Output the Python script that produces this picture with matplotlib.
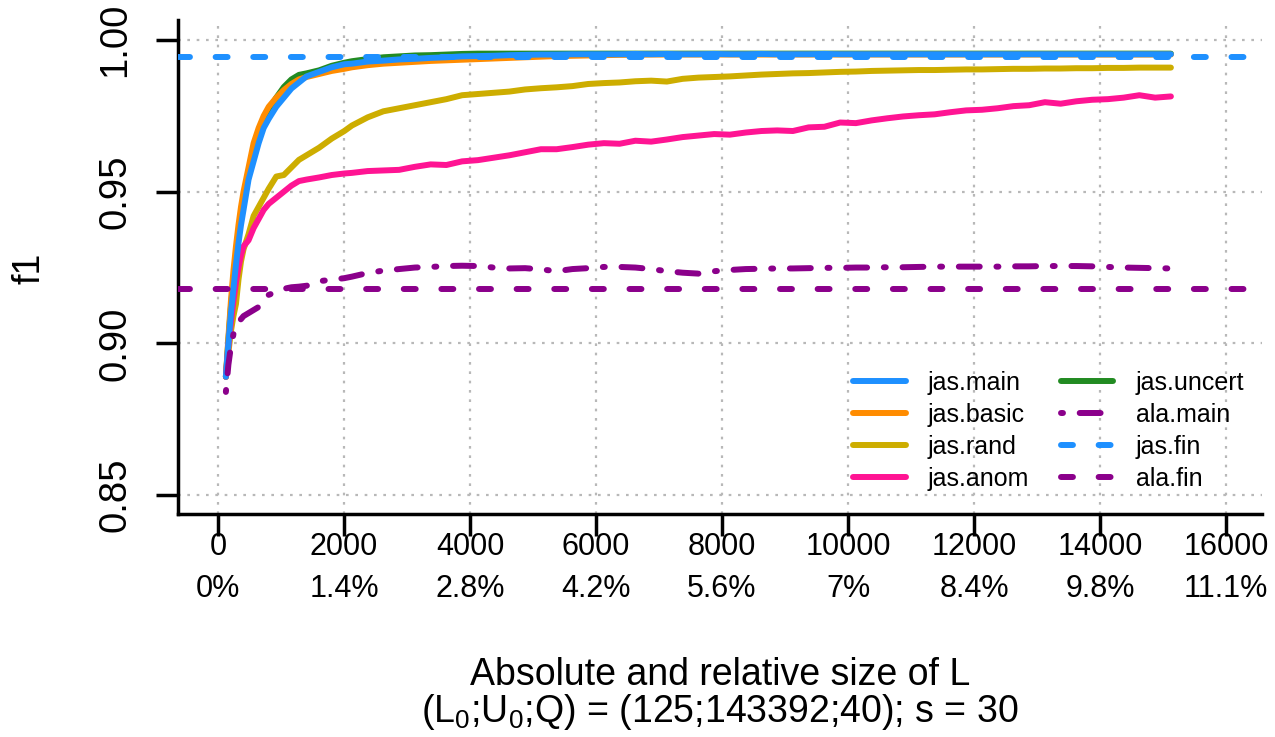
import numpy as np
import matplotlib
matplotlib.use("Agg")
import matplotlib.pyplot as plt
from matplotlib.lines import Line2D

plt.rcParams["font.family"] = ["Liberation Sans", "DejaVu Sans"]
plt.rcParams["mathtext.fontset"] = "custom"
plt.rcParams["mathtext.rm"] = "Liberation Sans"
plt.rcParams["mathtext.it"] = "Liberation Sans"

# size of L (shared sampling of the curves)
x_early = [125, 165, 205, 245, 285, 325, 365, 405, 485, 565, 645, 725, 805,
           925, 1045, 1165, 1285, 1405, 1605, 1805, 2005]
x_late = list(range(2125, 15126, 250))
size_L = np.array(x_early + x_late)

jas_main = [
    0.889, 0.900, 0.910, 0.918, 0.926, 0.933, 0.939, 0.944, 0.954, 0.960, 0.966,
    0.971, 0.974, 0.978, 0.981, 0.984, 0.986, 0.988, 0.9895, 0.991, 0.992,
    0.9922, 0.9929, 0.9932, 0.9936, 0.9938, 0.9941, 0.9943, 0.9946, 0.9947,
    0.9948, 0.9950, 0.9951, 0.9952, 0.9952, 0.9953, 0.9953, 0.9953, 0.9953,
    0.9954, 0.9953, 0.9954, 0.9953, 0.9953, 0.9954, 0.9953, 0.9953, 0.9954,
    0.9953, 0.9953, 0.9953, 0.9954, 0.9953, 0.9953, 0.9953, 0.9953, 0.9953,
    0.9953, 0.9953, 0.9953, 0.9953, 0.9953, 0.9953, 0.9953, 0.9953, 0.9953,
    0.9953, 0.9953, 0.9953, 0.9953, 0.9953, 0.9953, 0.9953, 0.9953,
]
jas_basic = [
    0.889, 0.902, 0.914, 0.924, 0.932, 0.939, 0.945, 0.950, 0.958, 0.966, 0.971,
    0.975, 0.978, 0.981, 0.9835, 0.9855, 0.987, 0.9878, 0.9888, 0.9898, 0.9905,
    0.9910, 0.9917, 0.9922, 0.9925, 0.9928, 0.9931, 0.9933, 0.9935, 0.9937,
    0.9939, 0.9941, 0.9943, 0.9945, 0.9947, 0.9948, 0.9949, 0.9950, 0.9951,
    0.9951, 0.9952, 0.9952, 0.9952, 0.9952, 0.9952, 0.9952, 0.9952, 0.9952,
    0.9952, 0.9952, 0.9952, 0.9952, 0.9952, 0.9952, 0.9952, 0.9952, 0.9952,
    0.9952, 0.9952, 0.9952, 0.9952, 0.9952, 0.9952, 0.9952, 0.9952, 0.9952,
    0.9952, 0.9952, 0.9952, 0.9952, 0.9952, 0.9952, 0.9952, 0.9952,
]
jas_uncert = [
    0.889, 0.901, 0.912, 0.921, 0.929, 0.936, 0.942, 0.947, 0.955, 0.962, 0.968,
    0.973, 0.977, 0.981, 0.9845, 0.987, 0.9885, 0.989, 0.990, 0.9915, 0.9925,
    0.9930, 0.9937, 0.9943, 0.9946, 0.9949, 0.9950, 0.9952, 0.9954, 0.9955,
    0.9955, 0.9955, 0.9955, 0.9955, 0.9955, 0.9955, 0.9955, 0.9955, 0.9955,
    0.9955, 0.9955, 0.9955, 0.9955, 0.9955, 0.9955, 0.9955, 0.9955, 0.9955,
    0.9955, 0.9955, 0.9955, 0.9955, 0.9955, 0.9955, 0.9955, 0.9955, 0.9955,
    0.9955, 0.9955, 0.9955, 0.9955, 0.9955, 0.9955, 0.9955, 0.9955, 0.9955,
    0.9955, 0.9955, 0.9955, 0.9955, 0.9955, 0.9955, 0.9955, 0.9955,
]
jas_rand = [
    0.889, 0.897, 0.904, 0.909, 0.913, 0.921, 0.927, 0.931, 0.936, 0.942, 0.945,
    0.948, 0.951, 0.955, 0.9555, 0.958, 0.9605, 0.962, 0.9645, 0.9675, 0.970,
    0.9718, 0.9745, 0.9765, 0.9775, 0.9785, 0.9795, 0.9805, 0.9818, 0.9822,
    0.9826, 0.9830, 0.9837, 0.9841, 0.9844, 0.9848, 0.9855, 0.9858, 0.9860,
    0.9864, 0.9866, 0.9863, 0.9872, 0.9876, 0.9878, 0.9880, 0.9883, 0.9886,
    0.9888, 0.9890, 0.9891, 0.9893, 0.9895, 0.9896, 0.9898, 0.9899, 0.9900,
    0.9901, 0.9901, 0.9902, 0.9903, 0.9903, 0.9904, 0.9905, 0.9905, 0.9906,
    0.9906, 0.9907, 0.9907, 0.9908, 0.9908, 0.9909, 0.9909, 0.9909,
]
jas_anom = [
    0.889, 0.899, 0.907, 0.914, 0.920, 0.925, 0.929, 0.932, 0.934, 0.938, 0.941,
    0.944, 0.946, 0.948, 0.950, 0.952, 0.9535, 0.954, 0.9547, 0.9555, 0.956,
    0.9562, 0.9568, 0.9570, 0.9572, 0.9582, 0.9590, 0.9588, 0.9600, 0.9604,
    0.9612, 0.9620, 0.9630, 0.9640, 0.9640, 0.9647, 0.9655, 0.9660, 0.9658,
    0.9668, 0.9665, 0.9672, 0.9680, 0.9685, 0.9690, 0.9688, 0.9695, 0.9700,
    0.9702, 0.9700, 0.9712, 0.9714, 0.9728, 0.9726, 0.9735, 0.9742, 0.9748,
    0.9752, 0.9755, 0.9762, 0.9768, 0.9770, 0.9775, 0.9782, 0.9785, 0.9795,
    0.9790, 0.9798, 0.9803, 0.9805, 0.9810, 0.9818, 0.9810, 0.9814,
]
ala_main = [
    0.884, 0.893, 0.899, 0.903, 0.905, 0.907, 0.908, 0.909, 0.910, 0.911, 0.912,
    0.914, 0.916, 0.917, 0.918, 0.9185, 0.9187, 0.919, 0.9205, 0.921, 0.9215,
    0.9220, 0.9232, 0.9240, 0.9245, 0.9250, 0.9252, 0.9255, 0.9256, 0.9255,
    0.9250, 0.9247, 0.9248, 0.9244, 0.9238, 0.9245, 0.9248, 0.9252, 0.9252,
    0.9250, 0.9245, 0.9238, 0.9233, 0.9230, 0.9238, 0.9242, 0.9245, 0.9246,
    0.9247, 0.9247, 0.9248, 0.9249, 0.9249, 0.9250, 0.9250, 0.9251, 0.9251,
    0.9252, 0.9253, 0.9253, 0.9253, 0.9253, 0.9253, 0.9254, 0.9254, 0.9255,
    0.9255, 0.9255, 0.9254, 0.9252, 0.9250, 0.9249, 0.9248, 0.9247,
]
jas_fin = 0.9944
ala_fin = 0.918

x_ticks = [0, 2000, 4000, 6000, 8000, 10000, 12000, 14000, 16000]
x_pct = ["0%", "1.4%", "2.8%", "4.2%", "5.6%", "7%", "8.4%", "9.8%", "11.1%"]
y_ticks = [0.85, 0.90, 0.95, 1.00]

c_main = "#1E90FF"
c_basic = "#FF8C00"
c_rand = "#CDAD00"
c_anom = "#FF1493"
c_uncert = "#228B22"
c_ala = "#8B008B"

lw = 4.3
dashed = (2.0, 4.3)
dotdash = (0.33, 2.8, 3.5, 2.8)

fig = plt.figure(figsize=(12.75, 7.37), dpi=100)
ax = fig.add_axes([178 / 1275, 1 - 514 / 737, (1262 - 178) / 1275, (514 - 20) / 737])

# grid
for xv in x_ticks:
    ax.axvline(xv, color="#B8B8B8", lw=1.6, dashes=(1.2, 3.0), zorder=1)
for yv in y_ticks:
    ax.axhline(yv, color="#B8B8B8", lw=1.6, dashes=(1.2, 3.0), zorder=1)

kw = dict(lw=lw, solid_capstyle="round", dash_capstyle="round", solid_joinstyle="round")
ax.plot(size_L, jas_uncert, color=c_uncert, zorder=3, **kw)
ax.plot(size_L, jas_basic, color=c_basic, zorder=3, **kw)
ax.plot(size_L, jas_rand, color=c_rand, zorder=3, **kw)
ax.plot(size_L, jas_anom, color=c_anom, zorder=3, **kw)
ax.plot(size_L, jas_main, color=c_main, zorder=4, **kw)
ax.plot(size_L, ala_main, color=c_ala, dashes=dotdash, zorder=5, **kw)
ax.axhline(jas_fin, color=c_main, dashes=dashed, zorder=5, **kw)
ax.axhline(ala_fin, color=c_ala, dashes=dashed, zorder=5, **kw)

ax.set_xlim(-635, 16571)
ax.set_ylim(0.84377, 1.00659)

for s in ["top", "right"]:
    ax.spines[s].set_visible(False)
for s in ["left", "bottom"]:
    ax.spines[s].set_linewidth(2.5)

ax.set_xticks(x_ticks)
ax.set_xticklabels([f"{a}\n{b}" for a, b in zip(x_ticks, x_pct)], linespacing=1.5)
ax.set_yticks(y_ticks)
ax.set_yticklabels([f"{v:.2f}" for v in y_ticks])
ax.tick_params(axis="both", direction="out", length=16, width=2.5)
ax.tick_params(axis="x", pad=-3, labelsize=22)
ax.tick_params(axis="y", pad=16, labelsize=27.5)
plt.setp(ax.get_yticklabels(), rotation=90, va="center")

fig.text(30 / 1275, 1 - 268 / 737, "f1", rotation=90, ha="center", va="center", fontsize=27)
fig.text(720 / 1275, 1 - 675 / 737, "Absolute and relative size of L",
         ha="center", va="center", fontsize=27)
fig.text(720 / 1275, 1 - 712 / 737,
         r"(L$_0$;U$_0$;Q) = (125;143392;40); s = 30",
         ha="center", va="center", fontsize=27)

def h(color, dashes=None):
    d = dict(color=color, lw=lw, solid_capstyle="round", dash_capstyle="round")
    if dashes:
        d["dashes"] = dashes
    return Line2D([], [], **d)

handles = [h(c_main), h(c_basic), h(c_rand), h(c_anom),
           h(c_uncert), h(c_ala, dotdash), h(c_main, dashed), h(c_ala, dashed)]
labels = ["jas.main", "jas.basic", "jas.rand", "jas.anom",
          "jas.uncert", "ala.main", "jas.fin", "ala.fin"]
fig.legend(handles, labels, ncol=2, frameon=False, fontsize=18,
           loc="upper left", bbox_to_anchor=(853 / 1275, 1 - 371 / 737),
           borderpad=0, borderaxespad=0, handlelength=2.1, handletextpad=0.9,
           columnspacing=1.25, labelspacing=0.32)

fig.savefig("out.png", dpi=100)
